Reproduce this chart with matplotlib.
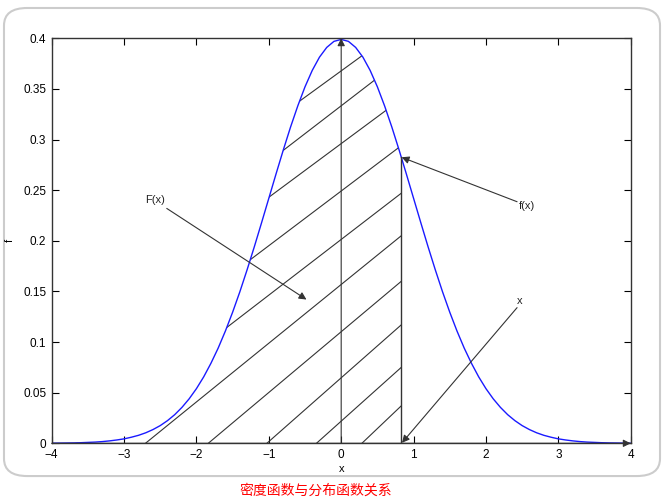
import matplotlib.pyplot as plt
from matplotlib.patches import FancyBboxPatch, Polygon

# density curve, values (symmetric around 0)
x_half = [0.0, 0.1, 0.2, 0.3, 0.4, 0.5, 0.6, 0.7, 0.8, 0.9, 1.0,
          1.1, 1.2, 1.3, 1.4, 1.5, 1.6, 1.7, 1.8, 1.9, 2.0,
          2.1, 2.2, 2.3, 2.4, 2.5, 2.6, 2.7, 2.8, 2.9, 3.0,
          3.1, 3.2, 3.3, 3.4, 3.5, 3.6, 3.7, 3.8, 3.9, 4.0]
f_half = [0.3989, 0.3970, 0.3910, 0.3814, 0.3683, 0.3521, 0.3332, 0.3123, 0.2897, 0.2661, 0.2420,
          0.2179, 0.1942, 0.1714, 0.1497, 0.1295, 0.1109, 0.0940, 0.0790, 0.0656, 0.0540,
          0.0440, 0.0355, 0.0283, 0.0224, 0.0175, 0.0136, 0.0104, 0.0079, 0.0060, 0.0044,
          0.0033, 0.0024, 0.0017, 0.0012, 0.0009, 0.0006, 0.0004, 0.0003, 0.0002, 0.0001]
xs = [-v for v in x_half[:0:-1]] + x_half
fs = f_half[:0:-1] + f_half

# the cut point x and f(x) there
x_cut = 0.83
f_cut = 0.283

# hatch lines: height where each line meets x = x_cut, and its slope
hatch_y = [0.411, 0.379, 0.340, 0.294, 0.247, 0.205, 0.160, 0.117, 0.075, 0.037]
hatch_slope = [0.052, 0.055, 0.053, 0.054, 0.055, 0.058, 0.060, 0.063, 0.064, 0.068]

yticks = [0, 0.05, 0.1, 0.15, 0.2, 0.25, 0.3, 0.35, 0.4]
ytick_labels = ['0', '0.05', '0.1', '0.15', '0.2', '0.25', '0.3', '0.35', '0.4']
xticks = [-4, -3, -2, -1, 0, 1, 2, 3, 4]

plt.rcParams['font.family'] = ['Liberation Sans', 'DejaVu Sans']

fig = plt.figure(figsize=(6.66, 4.99), dpi=100)

# rounded grey frame around the plot, behind the axes
frame = FancyBboxPatch((0.006, 0.046), 0.985, 0.938, boxstyle='round,pad=0,rounding_size=0.035',
                       transform=fig.transFigure, facecolor='white', edgecolor='#cccccc', lw=1.5,
                       zorder=-10)
fig.add_artist(frame)

ax = fig.add_axes([0.0776, 0.1116, 0.8694, 0.8116])
ax.set_facecolor('none')

ink = '#333333'

# hatched area under the curve, left of x_cut
region = [(x, f) for x, f in zip(xs, fs) if x < x_cut]
region += [(x_cut, f_cut), (x_cut, 0), (-4, 0)]
clip = Polygon(region, closed=True, transform=ax.transData, facecolor='none', edgecolor='none')
ax.add_patch(clip)
for y0, s in zip(hatch_y, hatch_slope):
    line, = ax.plot([-4, x_cut], [y0 + s * (-4 - x_cut), y0], color=ink, lw=0.8)
    line.set_clip_path(clip)

ax.plot(xs, fs, color='#1a1aff', lw=1.0)
ax.plot([x_cut, x_cut], [0, f_cut], color=ink, lw=1.0)

arrow = dict(arrowstyle='-|>', color=ink, lw=0.8, mutation_scale=11, shrinkA=0, shrinkB=0)
ax.annotate('', xy=(0, 0.4), xytext=(0, 0), arrowprops=arrow, annotation_clip=False)
ax.annotate('', xy=(4, 0), xytext=(-4, 0), arrowprops=arrow, annotation_clip=False)

ax.annotate('', xy=(-0.48, 0.142), xytext=(-2.41, 0.232), arrowprops=arrow)
ax.text(-2.57, 0.240, 'F(x)', fontsize=8, ha='center', va='center', color='#222222')
ax.annotate('', xy=(x_cut + 0.005, 0.2825), xytext=(2.43, 0.2386), arrowprops=arrow)
ax.text(2.57, 0.2344, 'f(x)', fontsize=8, ha='center', va='center', color='#222222')
ax.annotate('', xy=(x_cut + 0.01, 0.0005), xytext=(2.43, 0.134), arrowprops=arrow)
ax.text(2.47, 0.1408, 'x', fontsize=8, ha='center', va='center', color='#222222')

ax.set_xlim(-4, 4)
ax.set_ylim(0, 0.4)
ax.set_xticks(xticks)
ax.set_yticks(yticks)
ax.set_yticklabels(ytick_labels)
ax.tick_params(direction='in', length=5, width=0.8, labelsize=8.5, top=True, right=True)
ax.tick_params(axis='x', pad=4)
ax.tick_params(axis='y', pad=4)
for sp in ax.spines.values():
    sp.set_color(ink)
    sp.set_linewidth(1.0)

ax.set_xlabel('x', fontsize=8, labelpad=2)
ax.set_ylabel('f', fontsize=8)
ax.yaxis.set_label_coords(-0.063, 0.5)

fig.text(0.474, 0.016, '密度函数与分布函数关系', color='red', fontsize=10,
         ha='center', va='center', family=['Noto Sans CJK SC', 'DejaVu Sans'])

fig.savefig('out.png', dpi=100)
